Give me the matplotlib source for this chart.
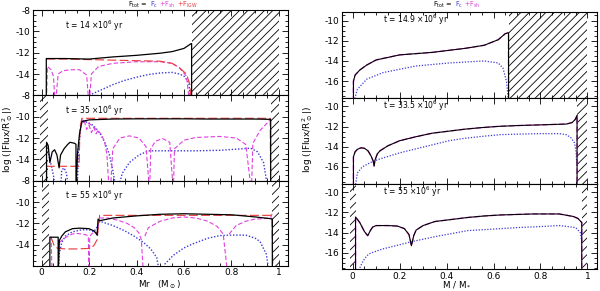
import matplotlib
matplotlib.use('Agg')
import matplotlib.pyplot as plt
from matplotlib.ticker import MultipleLocator
from matplotlib.offsetbox import TextArea, HPacker, AnchoredOffsetbox

plt.rcParams['hatch.linewidth'] = 0.6
plt.rcParams['font.family'] = 'DejaVu Sans'

BLK = 'black'
BLU = '#3a3ad8'
MAG = '#e040e0'
RED = '#e83838'

# ---------- left column: Mr (Msun) ----------
# t = 14 Myr
tl_tot_x = [0.02, 0.02, 0.05, 0.1, 0.2, 0.3, 0.4, 0.5, 0.55, 0.6, 0.63, 0.632, 0.632]
tl_tot_y = [-17, -12.55, -12.55, -12.55, -12.6, -12.4, -12.25, -12.05, -11.9, -11.6, -11.15, -11.15, -17]
tl_igw_x = [0.02, 0.1, 0.2, 0.3, 0.4, 0.5, 0.55, 0.58, 0.61, 0.625, 0.63]
tl_igw_y = [-12.6, -12.6, -12.65, -12.7, -12.75, -12.8, -13.0, -13.4, -14.0, -15.0, -17]
tl_sh_x = [0.02, 0.025, 0.04, 0.05, 0.058, 0.07, 0.09, 0.12, 0.16, 0.19, 0.2, 0.21, 0.24, 0.3, 0.4, 0.5, 0.55, 0.58, 0.61, 0.625]
tl_sh_y = [-17, -13.3, -13.6, -14.2, -17, -14.0, -13.7, -13.6, -13.6, -14.1, -17, -14.0, -13.3, -13.0, -12.85, -12.85, -13.0, -13.4, -14.2, -17]
tl_c_x = [0.15, 0.2, 0.25, 0.3, 0.35, 0.4, 0.45, 0.5, 0.55, 0.58, 0.6, 0.62, 0.63]
tl_c_y = [-17, -16.0, -15.5, -15.0, -14.6, -14.3, -14.05, -13.9, -13.85, -14.0, -14.2, -14.8, -17]

# t = 35 Myr
ml_tot_x = [0.021, 0.021, 0.028, 0.035, 0.045, 0.055, 0.065, 0.074, 0.08, 0.095, 0.11, 0.12, 0.14, 0.145, 0.145,
            0.152, 0.16, 0.17, 0.2, 0.3, 0.4, 0.5, 0.6, 0.7, 0.8, 0.9, 0.965, 0.965]
ml_tot_y = [-17, -12.4, -12.7, -14.3, -13.3, -13.1, -13.6, -14.8, -13.6, -13.0, -12.6, -12.4, -12.5, -12.6, -17,
            -13.3, -11.6, -10.45, -10.3, -10.22, -10.2, -10.2, -10.2, -10.22, -10.22, -10.22, -10.25, -17]
ml_igw_x = [0.021, 0.021, 0.1, 0.158, 0.162, 0.17, 0.3, 0.5, 0.7, 0.9, 0.963, 0.965]
ml_igw_y = [-17, -14.65, -14.65, -14.65, -11.0, -10.15, -10.15, -10.15, -10.15, -10.15, -10.15, -17]
ml_sh_x = [0.17, 0.19, 0.21, 0.23, 0.25, 0.265, 0.275, 0.285, 0.29, 0.3, 0.33, 0.37, 0.41, 0.44, 0.455,
           0.46, 0.48, 0.51, 0.54, 0.555, 0.56, 0.6, 0.65, 0.75, 0.82, 0.86, 0.884, 0.89, 0.92, 0.95, 0.965]
ml_sh_y = [-10.3, -10.5, -10.8, -11.2, -11.6, -12.3, -13.5, -17, -17, -13.0, -12.0, -11.8, -12.0, -12.8, -17,
           -13.0, -12.3, -12.05, -12.4, -17, -13.0, -12.2, -11.95, -11.85, -12.0, -12.6, -17, -12.5, -11.3, -10.6, -10.2]
ml_sh2_x = [0.18, 0.19, 0.2, 0.21, 0.22, 0.23, 0.24]
ml_sh2_y = [-10.4, -11.2, -10.8, -11.5, -11.0, -11.6, -11.2]
ml_c_x = [0.022, 0.03, 0.04, 0.05, 0.06, None, 0.08, 0.085, 0.095, 0.105, 0.115, None,
          0.15, 0.155, 0.165, 0.17, 0.19, 0.21, 0.23, 0.25, 0.27, 0.285, 0.3, 0.315, None,
          0.32, 0.34, 0.37, 0.41, 0.45, 0.55, 0.65, 0.75, 0.85, 0.88, 0.91, 0.935, 0.955]
ml_c_y = [-12.6, -13.5, -14.5, -15.5, -17, None, -17, -15.0, -14.8, -15.3, -17, None,
          -17, -13.3, -11.0, -10.5, -10.5, -10.7, -11.1, -11.7, -12.6, -13.5, -15.0, -17, None,
          -17, -15.3, -14.3, -13.6, -13.2, -13.2, -13.2, -13.15, -13.0, -12.95, -13.3, -14.3, -17]

# t = 55 Myr
bl_tot_x = [0.035, 0.035, 0.055, 0.07, 0.07, 0.075, 0.085, 0.1, 0.13, 0.16, 0.2, 0.22, 0.228, 0.234, 0.238,
            0.245, 0.3, 0.4, 0.5, 0.6, 0.7, 0.8, 0.9, 0.96, 0.972, 0.972]
bl_tot_y = [-17, -13.3, -13.3, -13.3, -17, -13.6, -13.2, -12.8, -12.5, -12.45, -12.5, -12.7, -12.9, -13.1, -11.6,
            -11.75, -11.5, -11.3, -11.15, -11.1, -11.15, -11.2, -11.4, -11.55, -11.6, -17]
bl_igw_x = [0.04, 0.045, 0.055, 0.07, 0.1, 0.15, 0.2, 0.22, 0.235, 0.24, 0.245, 0.3, 0.5, 0.7, 0.9, 0.97, 0.975]
bl_igw_y = [-13.3, -13.6, -14.2, -14.35, -14.4, -14.4, -14.35, -14.1, -13.5, -12.0, -11.25, -11.25, -11.25, -11.25, -11.25, -11.25, -17]
bl_sh_x = [0.035, 0.04, 0.045, None,
           0.075, 0.09, 0.11, 0.13, 0.15, 0.17, 0.19, 0.197, 0.2, 0.203, 0.21, 0.225, 0.235, 0.24, None,
           0.245, 0.28, 0.32, 0.36, 0.39, 0.41, 0.42, 0.43, None,
           0.435, 0.45, 0.5, 0.55, 0.6, 0.65, 0.7, 0.74, 0.765, 0.785, None,
           0.79, 0.82, 0.86, 0.9, 0.94, 0.965, 0.972]
bl_sh_y = [-13.3, -13.3, -17, None,
           -13.8, -13.5, -13.2, -13.0, -12.95, -13.0, -13.1, -13.2, -17, -13.3, -13.0, -12.8, -12.9, -12.0, None,
           -11.5, -11.5, -11.7, -12.0, -12.4, -12.9, -13.5, -17, None,
           -13.2, -12.4, -11.8, -11.5, -11.4, -11.5, -11.8, -12.3, -13.0, -17, None,
           -13.0, -12.2, -11.8, -11.6, -11.55, -11.5, -11.0]
bl_c_x = [0.07, 0.075, 0.085, 0.1, 0.13, 0.17, 0.2, 0.22, 0.235, 0.245, 0.3, 0.35, 0.39, 0.43, 0.46, 0.485, 0.5, None,
          0.505, 0.52, 0.555, 0.6, 0.64, 0.7, 0.75, 0.8, 0.86, 0.9, 0.92, 0.947, 0.96]
bl_c_y = [-17, -14.8, -13.8, -13.2, -12.8, -12.6, -12.6, -12.8, -12.3, -11.8, -12.2, -12.7, -13.2, -13.8, -14.4, -15.2, -17, None,
          -17, -15.8, -15.0, -14.3, -13.9, -13.4, -13.15, -13.1, -13.1, -13.4, -13.7, -14.9, -17]

# ---------- right column: M / M* ----------
tr_tot_x = [0.003, 0.003, 0.01, 0.03, 0.06, 0.1, 0.2, 0.34, 0.48, 0.56, 0.62, 0.65, 0.664, 0.664]
tr_tot_y = [-18, -16.0, -15.4, -14.9, -14.4, -13.9, -13.4, -13.15, -12.75, -12.45, -11.9, -11.3, -11.2, -18]
tr_c_x = [0.005, 0.02, 0.06, 0.13, 0.27, 0.41, 0.56, 0.62, 0.64, 0.655, 0.664]
tr_c_y = [-18, -16.8, -15.8, -15.15, -14.5, -14.2, -14.0, -14.2, -14.7, -16.0, -18]

mr_tot_x = [0.003, 0.003, 0.01, 0.02, 0.035, 0.05, 0.065, 0.078, 0.087, 0.091, 0.095, 0.105, 0.116, 0.15, 0.2,
            0.27, 0.34, 0.41, 0.48, 0.55, 0.62, 0.7, 0.77, 0.84, 0.91, 0.935, 0.948, 0.956, 0.956]
mr_tot_y = [-18, -15.0, -14.5, -14.25, -14.1, -14.15, -14.4, -14.9, -15.4, -15.9, -15.3, -14.7, -14.4, -13.9, -13.4,
            -13.0, -12.65, -12.45, -12.25, -12.1, -11.98, -11.9, -11.85, -11.8, -11.75, -11.6, -11.3, -10.9, -18]
mr_c_x = [0.01, 0.02, 0.04, 0.06, 0.09, 0.13, 0.2, 0.27, 0.34, 0.41, 0.48, 0.56, 0.63, 0.7, 0.8, 0.88, 0.91, 0.93, 0.945, 0.952, 0.956]
mr_c_y = [-18, -16.6, -16.0, -15.75, -15.4, -15.1, -14.6, -14.2, -13.8, -13.4, -13.15, -12.95, -12.8, -12.75, -12.7, -12.7, -12.8, -13.1, -13.6, -14.5, -16]

br_tot_x = [0.012, 0.012, 0.03, 0.05, 0.064, 0.075, 0.085, 0.1, 0.15, 0.19, 0.22, 0.24, 0.25, 0.26, 0.27, 0.3,
            0.35, 0.42, 0.49, 0.56, 0.63, 0.7, 0.77, 0.83, 0.88, 0.94, 0.96, 0.976, 0.976]
br_tot_y = [-18, -12.45, -13.0, -13.9, -14.3, -13.8, -13.45, -13.3, -13.3, -13.35, -13.6, -14.2, -15.3, -14.3, -13.75, -13.3,
            -12.9, -12.7, -12.5, -12.35, -12.25, -12.2, -12.15, -12.15, -12.15, -12.4, -12.6, -13.0, -18]
br_c_x = [0.02, 0.04, 0.05, 0.06, 0.07, 0.08, 0.13, 0.2, 0.25, 0.35, 0.49, 0.6, 0.7, 0.8, 0.88, 0.95, 0.97, 0.976]
br_c_y = [-18, -17.0, -16.6, -16.3, -16.1, -16.0, -15.6, -15.2, -14.9, -14.4, -13.8, -13.65, -13.5, -13.4, -13.3, -13.5, -14.0, -14.9]

# hatched (convective) zones
tl_hatch = [(0.632, 1.0)]
ml_hatch = [(-0.005, 0.027), (0.965, 1.0)]
bl_hatch = [(0.0, 0.033), (0.972, 1.0)]
tr_hatch = [(0.664, 1.0)]
mr_hatch = [(0.956, 1.0)]
br_hatch = [(-0.01, 0.012), (0.976, 1.0)]

labels_left = ['t = 14 $\\times$10$^6$ yr', 't = 35 $\\times$10$^6$ yr', 't = 55 $\\times$10$^6$ yr']
labels_right = ['t = 14.9 $\\times$10$^6$ yr', 't = 33.5 $\\times$10$^6$ yr', 't = 55 $\\times$10$^6$ yr']


def style(ax, xlim, ylim, ymajor, show_x):
    ax.set_xlim(*xlim)
    ax.set_ylim(*ylim)
    ax.xaxis.set_minor_locator(MultipleLocator(0.05))
    ax.yaxis.set_minor_locator(MultipleLocator(0.5))
    ax.set_yticks(ymajor)
    ax.set_yticklabels([str(v) for v in ymajor])
    ax.set_xticks([0, 0.2, 0.4, 0.6, 0.8, 1])
    ax.tick_params(which='both', direction='in', top=True, right=True, labelsize=6.5, width=0.6)
    ax.tick_params(axis='y', pad=2)
    ax.tick_params(axis='x', pad=1.5)
    ax.tick_params(which='major', length=4)
    ax.tick_params(which='minor', length=2)
    if show_x:
        ax.set_xticklabels(['0', '0.2', '0.4', '0.6', '0.8', '1'])
    else:
        ax.set_xticklabels([])
    for s in ax.spines.values():
        s.set_linewidth(0.8)


def hatch(ax, spans):
    for a, b in spans:
        ax.axvspan(a, b, facecolor='none', edgecolor='k', hatch='////', linewidth=0)


def title(xc, parts):
    boxes = [TextArea(t, textprops=dict(color=c, fontsize=4.8)) for t, c in parts]
    pack = HPacker(children=boxes, align='baseline', pad=0, sep=1)
    ab = AnchoredOffsetbox(loc='center', child=pack, bbox_to_anchor=(xc, 1 - 5 / 291),
                           bbox_transform=fig.transFigure, frameon=False, pad=0, borderpad=0)
    fig.add_artist(ab)


fig = plt.figure(figsize=(6, 2.91), dpi=100)

left_h = 0.2932
left_b = [0.6724, 0.3791, 0.0859]
right_h = 0.2950
right_b = [0.6639, 0.3689, 0.0739]

axL = [fig.add_axes([0.055, b, 0.425, left_h]) for b in left_b]
axR = [fig.add_axes([0.5695, b, 0.4255, right_h]) for b in right_b]

# left column
left_data = [
    (tl_tot_x, tl_tot_y, tl_igw_x, tl_igw_y, [(tl_sh_x, tl_sh_y)], tl_c_x, tl_c_y, tl_hatch),
    (ml_tot_x, ml_tot_y, ml_igw_x, ml_igw_y, [(ml_sh_x, ml_sh_y), (ml_sh2_x, ml_sh2_y)], ml_c_x, ml_c_y, ml_hatch),
    (bl_tot_x, bl_tot_y, bl_igw_x, bl_igw_y, [(bl_sh_x, bl_sh_y)], bl_c_x, bl_c_y, bl_hatch),
]
for i, (ax, d) in enumerate(zip(axL, left_data)):
    tx, ty, rx, ry, shs, cx, cy, hs = d
    hatch(ax, hs)
    ax.plot(cx, cy, color=BLU, lw=1.0, ls=(0, (1, 1.3)))
    for sx, sy in shs:
        ax.plot(sx, sy, color=MAG, lw=0.8, ls=(0, (4, 2)))
    ax.plot(rx, ry, color=RED, lw=0.8, ls=(0, (8, 3)))
    ax.plot(tx, ty, color=BLK, lw=0.9)
    ax.text(0.1, -9.45, labels_left[i], fontsize=5.5, va='center')
    style(ax, (-0.036, 1.038), (-16, -8), [-14, -12, -10, -8], i == 2)

# right column
right_data = [
    (tr_tot_x, tr_tot_y, tr_c_x, tr_c_y, tr_hatch),
    (mr_tot_x, mr_tot_y, mr_c_x, mr_c_y, mr_hatch),
    (br_tot_x, br_tot_y, br_c_x, br_c_y, br_hatch),
]
for i, (ax, d) in enumerate(zip(axR, right_data)):
    tx, ty, cx, cy, hs = d
    hatch(ax, hs)
    ax.plot(cx, cy, color=BLU, lw=0.9, ls=(0, (1, 1.3)))
    # shear flux nearly coincides with the total here
    ax.plot(tx, ty, color=MAG, lw=1.0, ls=(0, (4, 2)))
    ax.plot(tx, ty, color=BLK, lw=0.8)
    ax.text(0.13, -9.95, labels_right[i], fontsize=5.5, va='center')
    style(ax, (-0.047, 1.041), (-17.65, -9.15), [-16, -14, -12, -10], i == 2)

title(163 / 600, [('F$_{\\rm tot}$ = ', 'black'), ('F$_{\\rm c}$', BLU),
                  ('+F$_{\\rm sh}$', MAG), ('+F$_{\\rm IGW}$', RED)])
title(457 / 600, [('F$_{\\rm tot}$ = ', 'black'), ('F$_{\\rm c}$', BLU), ('+F$_{\\rm sh}$', MAG)])

fig.text(8 / 600, 1 - 140 / 291, 'log (|Flux/R$_\\odot^2$|)', rotation=90, fontsize=6.5, ha='center', va='center')
fig.text(308 / 600, 1 - 140 / 291, 'log (|Flux/R$_\\odot^2$|)', rotation=90, fontsize=6.5, ha='center', va='center')
fig.text(160 / 600, 1 - 285 / 291, 'Mr   (M$_\\odot$)', fontsize=6.3, ha='center', va='center')
fig.text(457 / 600, 1 - 285 / 291, 'M / M$_*$', fontsize=6.3, ha='center', va='center')

fig.savefig('out.png', dpi=100)
